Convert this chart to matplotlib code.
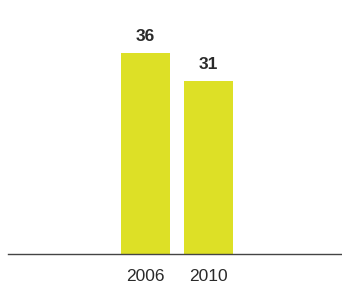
import matplotlib
matplotlib.use("Agg")
import matplotlib.pyplot as plt

years = ["2006", "2010"]
values = [36, 31]

plt.rcParams['font.family'] = ['Liberation Sans', 'DejaVu Sans']

W, H = 342, 286
fig = plt.figure(figsize=(W/100, H/100), dpi=100)
ax = fig.add_axes([8/W, (H-254)/H, (W-8)/W, 254/H])

x = list(range(len(years)))
bars = ax.bar(x, values, width=49/63, color="#dde026")
ax.set_xlim((8-145.5)/63, (342-145.5)/63)
ax.set_ylim(0, 36*254/201)

for xi, v in zip(x, values):
    ax.annotate(str(v), (xi, v), xytext=(0, 6.5), textcoords="offset points",
                ha="center", va="bottom", fontsize=12.5, fontweight="bold", color="#2a2a2a")

ax.set_xticks(x)
ax.set_xticklabels(years, fontsize=12.5, color="#2a2a2a")
ax.tick_params(axis="x", length=0, pad=11)
ax.set_yticks([])
for s in ["top", "right", "left"]:
    ax.spines[s].set_visible(False)
ax.spines["bottom"].set_color("#444444")
ax.spines["bottom"].set_linewidth(1.0)

fig.savefig("out.png", dpi=100)
